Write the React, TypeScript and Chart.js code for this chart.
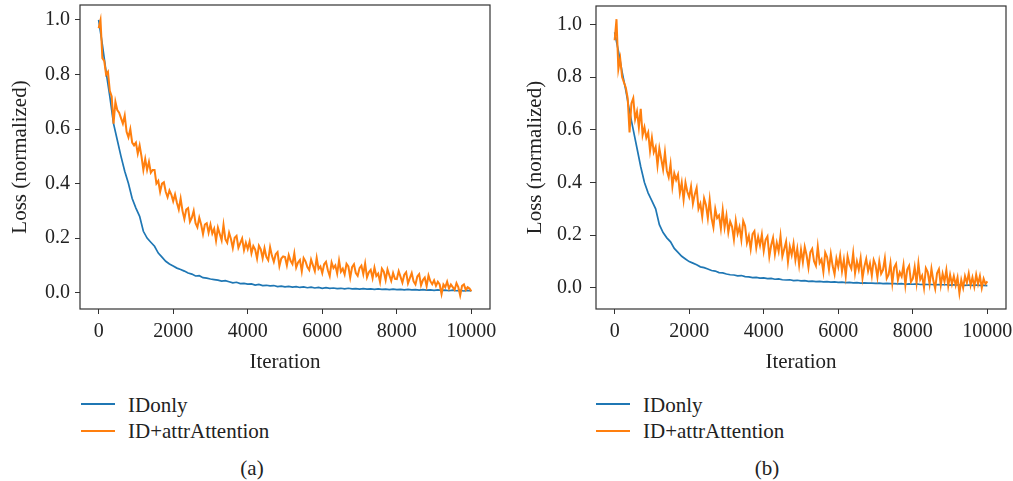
import React, { useEffect, useRef } from "react";
import { Chart, registerables } from "chart.js";

Chart.register(...registerables);

// ---------- data ----------
const IDONLY_STEP = 100; // iterations between IDonly samples
const ATTR_STEP = 50; // iterations between ID+attrAttention samples
const X_TICKS = [0, 2000, 4000, 6000, 8000, 10000];
const Y_TICKS = [0, 0.2, 0.4, 0.6, 0.8, 1.0];
const SERIES_NAMES = ["IDonly", "ID+attrAttention"];
const X_TITLE = "Iteration";
const Y_TITLE = "Loss (normalized)";
const CAPTIONS = ["(a)", "(b)"];

const IDONLY_A = [
  1.0, 0.91, 0.81, 0.72, 0.62, 0.56, 0.5, 0.445, 0.4, 0.345,
  0.31, 0.28, 0.225, 0.2, 0.185, 0.17, 0.145, 0.13, 0.115, 0.105,
  0.098, 0.09, 0.085, 0.079, 0.072, 0.068, 0.061, 0.062, 0.055, 0.053,
  0.05, 0.048, 0.046, 0.042, 0.044, 0.04, 0.036, 0.038, 0.033, 0.034,
  0.031, 0.032, 0.028, 0.03, 0.026, 0.027, 0.025, 0.026, 0.022, 0.024,
  0.021, 0.023, 0.02, 0.022, 0.019, 0.021, 0.018, 0.02, 0.017, 0.019,
  0.016, 0.018, 0.016, 0.017, 0.015, 0.016, 0.014, 0.016, 0.014, 0.015,
  0.013, 0.015, 0.013, 0.014, 0.012, 0.014, 0.012, 0.013, 0.011, 0.013,
  0.011, 0.012, 0.01, 0.012, 0.01, 0.011, 0.009, 0.011, 0.009, 0.01,
  0.008, 0.01, 0.008, 0.009, 0.007, 0.009, 0.007, 0.008, 0.006, 0.008,
  0.006,
];

const ATTR_A = [
  0.97, 1.0, 0.86, 0.85, 0.8, 0.81, 0.74, 0.72, 0.62, 0.7, 0.67, 0.66, 0.64, 0.62, 0.65, 0.59, 0.57, 0.6, 0.55, 0.54,
  0.55, 0.51, 0.54, 0.5, 0.45, 0.49, 0.45, 0.48, 0.44, 0.45, 0.45, 0.4, 0.41, 0.37, 0.4, 0.405, 0.37, 0.35, 0.375, 0.36,
  0.335, 0.36, 0.33, 0.305, 0.345, 0.3, 0.27, 0.305, 0.31, 0.26, 0.275, 0.3, 0.255, 0.24, 0.275, 0.25, 0.215, 0.25, 0.255, 0.22,
  0.25, 0.217, 0.234, 0.191, 0.238, 0.215, 0.192, 0.249, 0.196, 0.183, 0.22, 0.197, 0.164, 0.201, 0.208, 0.165, 0.182, 0.199, 0.156, 0.183,
  0.16, 0.187, 0.144, 0.171, 0.158, 0.125, 0.172, 0.159, 0.126, 0.163, 0.131, 0.119, 0.167, 0.135, 0.113, 0.141, 0.149, 0.097, 0.125, 0.133,
  0.131, 0.1, 0.138, 0.117, 0.105, 0.144, 0.092, 0.111, 0.12, 0.078, 0.127, 0.115, 0.094, 0.083, 0.121, 0.1, 0.079, 0.128, 0.087, 0.096,
  0.072, 0.104, 0.113, 0.082, 0.061, 0.111, 0.09, 0.1, 0.07, 0.118, 0.077, 0.088, 0.067, 0.106, 0.096, 0.055, 0.094, 0.104, 0.072, 0.062,
  0.09, 0.099, 0.068, 0.107, 0.056, 0.075, 0.084, 0.053, 0.092, 0.061, 0.07, 0.039, 0.088, 0.077, 0.046, 0.085, 0.064, 0.043, 0.072, 0.051,
  0.05, 0.079, 0.058, 0.037, 0.066, 0.075, 0.034, 0.053, 0.072, 0.041, 0.03, 0.059, 0.068, 0.027, 0.046, 0.055, 0.024, 0.063, 0.042, 0.031,
  0.045, 0.025, 0.04, 0.03, -0.005, 0.03, 0.02, 0.04, 0.015, 0.03, 0.02, 0.01, 0.035, 0.02, -0.01, 0.025, 0.03, 0.01, 0.02, 0.015,
  0.005,
];

const IDONLY_B = [
  0.97, 0.9, 0.82, 0.75, 0.67, 0.6, 0.53, 0.46, 0.4, 0.36,
  0.33, 0.3, 0.24, 0.21, 0.19, 0.175, 0.15, 0.135, 0.12, 0.11,
  0.1, 0.094, 0.088, 0.08, 0.077, 0.072, 0.066, 0.064, 0.058, 0.057,
  0.053, 0.05, 0.049, 0.046, 0.047, 0.043, 0.042, 0.039, 0.04, 0.037,
  0.038, 0.035, 0.036, 0.033, 0.034, 0.031, 0.03, 0.031, 0.028, 0.029,
  0.027, 0.028, 0.025, 0.026, 0.024, 0.025, 0.023, 0.024, 0.022, 0.023,
  0.021, 0.022, 0.02, 0.021, 0.019, 0.02, 0.018, 0.019, 0.018, 0.018,
  0.017, 0.018, 0.016, 0.017, 0.016, 0.016, 0.015, 0.016, 0.014, 0.015,
  0.014, 0.015, 0.013, 0.014, 0.013, 0.013, 0.012, 0.013, 0.012, 0.012,
  0.011, 0.012, 0.011, 0.011, 0.01, 0.011, 0.01, 0.011, 0.01, 0.01,
  0.009,
];

const ATTR_B = [
  0.94, 1.02, 0.83, 0.87, 0.8, 0.78, 0.76, 0.72, 0.59, 0.7, 0.72, 0.64, 0.67, 0.61, 0.68, 0.58, 0.61, 0.57, 0.59, 0.52,
  0.57, 0.515, 0.535, 0.465, 0.53, 0.49, 0.45, 0.515, 0.445, 0.42, 0.47, 0.385, 0.435, 0.41, 0.43, 0.36, 0.4, 0.335, 0.4, 0.365,
  0.345, 0.385, 0.32, 0.355, 0.38, 0.3, 0.32, 0.27, 0.34, 0.315, 0.265, 0.335, 0.265, 0.23, 0.3, 0.265, 0.275, 0.225, 0.295, 0.23,
  0.275, 0.211, 0.252, 0.233, 0.184, 0.255, 0.206, 0.232, 0.183, 0.254, 0.235, 0.171, 0.197, 0.148, 0.204, 0.215, 0.152, 0.194, 0.161, 0.203,
  0.14, 0.183, 0.196, 0.119, 0.162, 0.19, 0.128, 0.171, 0.139, 0.197, 0.12, 0.148, 0.176, 0.099, 0.157, 0.125, 0.168, 0.106, 0.149, 0.087,
  0.145, 0.098, 0.156, 0.124, 0.077, 0.135, 0.148, 0.101, 0.084, 0.157, 0.095, 0.108, 0.061, 0.134, 0.117, 0.07, 0.129, 0.083, 0.052, 0.111,
  0.08, 0.124, 0.063, 0.107, 0.046, 0.12, 0.089, 0.073, 0.132, 0.056, 0.1, 0.069, 0.113, 0.037, 0.081, 0.11, 0.064, 0.093, 0.047, 0.106,
  0.087, 0.041, 0.1, 0.054, 0.068, 0.112, 0.036, 0.05, 0.094, 0.018, 0.077, 0.091, 0.03, 0.059, 0.043, 0.087, 0.011, 0.07, 0.084, 0.023,
  0.035, 0.079, 0.019, 0.093, 0.032, 0.047, 0.001, 0.075, 0.06, 0.014, 0.073, 0.028, -0.003, 0.056, 0.071, 0.01, 0.054, 0.024, 0.068, 0.007,
  0.05, 0.015, 0.045, 0.01, 0.04, -0.02, 0.03, 0.0, 0.045, 0.02, 0.055, 0.01, 0.04, 0.005, 0.05, 0.015, 0.045, 0.0, 0.035, 0.015,
  0.025,
];

// ---------- styles ----------
const BLUE = "#1f77b4";
const ORANGE = "#ff7f0e";
const AXIS = "#333333";
const TEXT = "#222222";
const FONT = '"Liberation Serif", "Times New Roman", serif';
const TICK_SIZE = 20;
const LABEL_SIZE = 21;

const toPoints = (values: number[], step: number) =>
  values.map((v, i) => ({ x: i * step, y: v }));

const framePlugin = {
  id: "frame",
  afterDatasetsDraw(chart: any) {
    const { ctx, chartArea: a } = chart;
    ctx.save();
    ctx.strokeStyle = AXIS;
    ctx.lineWidth = 1.2;
    ctx.strokeRect(a.left, a.top, a.right - a.left, a.bottom - a.top);
    ctx.restore();
  },
};

type PanelProps = {
  idOnly: number[];
  attr: number[];
  yMin: number;
  yMax: number;
  left: number;
  width: number;
  padTop: number;
  padRight: number;
  yAxisWidth: number;
  yTitlePad: number;
  yTickPad: number;
  yTickLen: number;
  legendLeft: number;
  captionCenter: number;
  caption: string;
};

const CANVAS_H = 390;
const X_AXIS_H = 81;

function Panel(p: PanelProps) {
  const ref = useRef<HTMLCanvasElement | null>(null);

  useEffect(() => {
    if (!ref.current) return;
    const tickFont = { family: FONT, size: TICK_SIZE };
    const labelFont = { family: FONT, size: LABEL_SIZE };
    const chart = new Chart(ref.current, {
      type: "line",
      data: {
        datasets: [
          {
            label: SERIES_NAMES[1],
            data: toPoints(p.attr, ATTR_STEP),
            borderColor: ORANGE,
            backgroundColor: ORANGE,
            borderWidth: 2,
            pointRadius: 0,
            tension: 0,
            fill: false,
          },
          {
            label: SERIES_NAMES[0],
            data: toPoints(p.idOnly, IDONLY_STEP),
            borderColor: BLUE,
            backgroundColor: BLUE,
            borderWidth: 1.7,
            pointRadius: 0,
            tension: 0,
            fill: false,
          },
        ],
      },
      options: {
        animation: false,
        responsive: false,
        maintainAspectRatio: false,
        events: [],
        layout: { padding: { top: p.padTop, right: p.padRight, left: 0, bottom: 0 } },
        plugins: { legend: { display: false }, tooltip: { enabled: false } },
        scales: {
          x: {
            type: "linear",
            min: -500,
            max: 10500,
            afterBuildTicks: (s: any) => {
              s.ticks = X_TICKS.map((v) => ({ value: v }));
            },
            afterFit: (s: any) => {
              s.height = X_AXIS_H;
              s.paddingLeft = 0;
              s.paddingRight = 0;
            },
            grid: { drawOnChartArea: false, drawTicks: true, tickLength: 5, color: AXIS, lineWidth: 1 },
            border: { display: false },
            ticks: {
              font: tickFont,
              color: TEXT,
              padding: 6,
              maxRotation: 0,
              autoSkip: false,
              callback: (v: any) => String(v),
            },
            title: { display: true, text: X_TITLE, font: labelFont, color: TEXT, padding: { top: 0, bottom: 15 } },
          },
          y: {
            type: "linear",
            min: p.yMin,
            max: p.yMax,
            afterBuildTicks: (s: any) => {
              s.ticks = Y_TICKS.map((v) => ({ value: v }));
            },
            afterFit: (s: any) => {
              s.width = p.yAxisWidth;
              s.paddingTop = 0;
              s.paddingBottom = 0;
            },
            grid: { drawOnChartArea: false, drawTicks: true, tickLength: p.yTickLen, color: AXIS, lineWidth: 1 },
            border: { display: false },
            ticks: {
              font: tickFont,
              color: TEXT,
              padding: p.yTickPad,
              autoSkip: false,
              callback: (v: any) => Number(v).toFixed(1),
            },
            title: { display: true, text: Y_TITLE, font: labelFont, color: TEXT, padding: { top: p.yTitlePad, bottom: 0 } },
          },
        },
      },
      plugins: [framePlugin],
    } as any);
    return () => chart.destroy();
  }, []);

  const textStyle: React.CSSProperties = {
    position: "absolute",
    fontFamily: FONT,
    fontSize: LABEL_SIZE,
    lineHeight: "20px",
    color: TEXT,
    whiteSpace: "nowrap",
  };

  return (
    <>
      <canvas
        ref={ref}
        width={p.width}
        height={CANVAS_H}
        style={{ position: "absolute", left: p.left, top: 0, width: p.width, height: CANVAS_H, display: "block" }}
      />
      <div style={{ position: "absolute", left: p.legendLeft, top: 403, width: 34, height: 2, background: BLUE }} />
      <div style={{ ...textStyle, left: p.legendLeft + 47, top: 395 }}>{SERIES_NAMES[0]}</div>
      <div style={{ position: "absolute", left: p.legendLeft, top: 430, width: 34, height: 2, background: ORANGE }} />
      <div style={{ ...textStyle, left: p.legendLeft + 47, top: 421 }}>{SERIES_NAMES[1]}</div>
      <div style={{ ...textStyle, left: p.captionCenter - 50, width: 100, textAlign: "center", top: 458 }}>{p.caption}</div>
    </>
  );
}

export default function App() {
  return (
    <div
      style={{
        position: "absolute",
        left: 0,
        top: 0,
        width: 1013,
        height: 481,
        background: "#ffffff",
        overflow: "hidden",
      }}
    >
      <Panel
        idOnly={IDONLY_A}
        attr={ATTR_A}
        yMin={-0.06}
        yMax={1.055}
        left={0}
        width={505}
        padTop={5}
        padRight={15}
        yAxisWidth={80}
        yTitlePad={8}
        yTickPad={5}
        yTickLen={5}
        legendLeft={81}
        captionCenter={252}
        caption={CAPTIONS[0]}
      />
      <Panel
        idOnly={IDONLY_B}
        attr={ATTR_B}
        yMin={-0.08}
        yMax={1.07}
        left={510}
        width={503}
        padTop={6}
        padRight={7}
        yAxisWidth={86}
        yTitlePad={13}
        yTickPad={8}
        yTickLen={6}
        legendLeft={596}
        captionCenter={767}
        caption={CAPTIONS[1]}
      />
    </div>
  );
}
